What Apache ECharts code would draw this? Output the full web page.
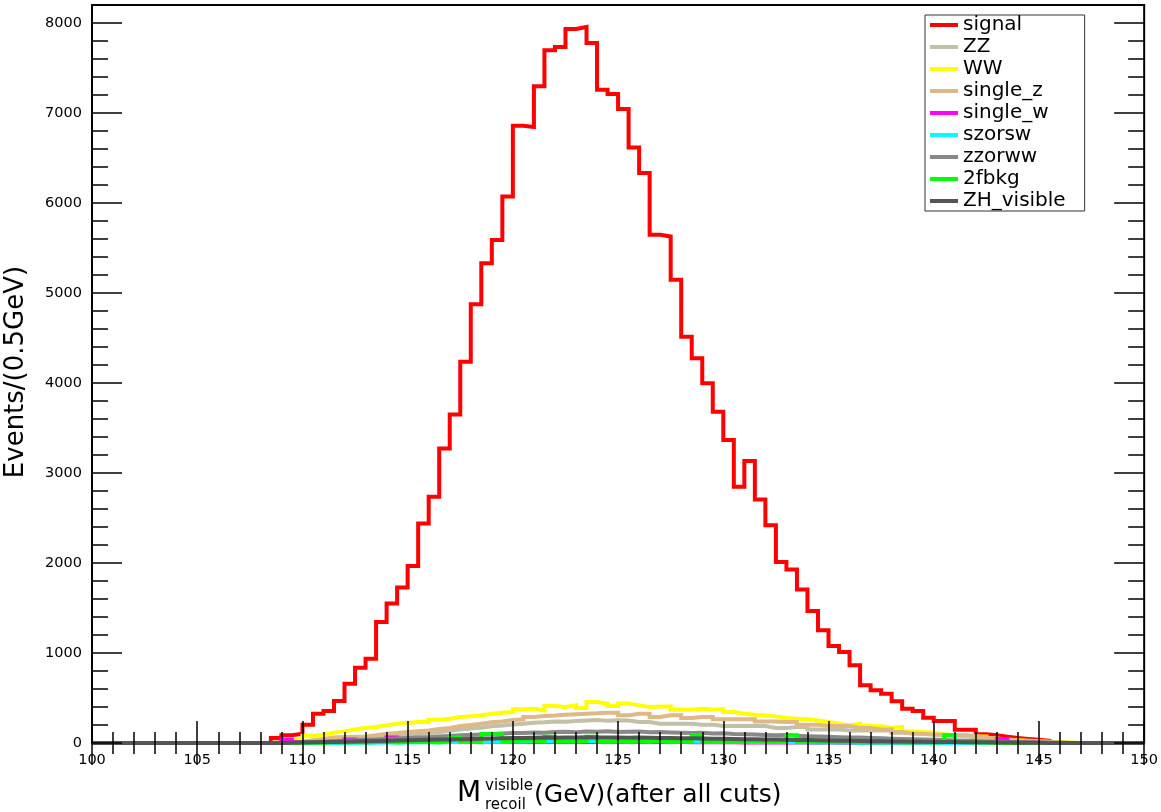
<!DOCTYPE html>
<html><head><meta charset="utf-8">
<script src="https://cdn.jsdelivr.net/npm/echarts@6/dist/echarts.min.js"></script>
<style>html,body{margin:0;padding:0;background:#fff}#c{width:1161px;height:812px}</style>
</head><body><div id="c"></div>
<script>
// Histogram binning: bins of 0.5 GeV; arrays below start at bin low edge 108.0 GeV
const firstEdge = 108.0;
const binWidth = 0.5;
const xMin = 100, xMax = 150;
const yMin = 0, yMax = 8200;

const signal = [0, 55, 85, 103, 203, 326, 355, 466, 659, 837,
  937, 1345, 1549, 1727, 1968, 2439, 2735, 3273, 3651, 4237,
  4875, 5331, 5590, 6072, 6859, 6844, 7296, 7697, 7734, 7934,
  7956, 7779, 7259, 7211, 7044, 6617, 6332, 5646, 5627, 5146,
  4515, 4275, 3996, 3681, 3366, 2846, 3132, 2706, 2420, 2012,
  1927, 1705, 1467, 1252, 1078, 1011, 863, 641, 585, 548,
  463, 381, 355, 281, 244, 244, 148, 148, 96, 85,
  70, 55, 45, 35, 25, 0, 0, 0];

const zz = [0, 0, 5, 10, 20, 25, 30, 38, 45, 55,
  60, 70, 80, 90, 100, 110, 120, 135, 150, 160,
  170, 185, 195, 205, 215, 225, 230, 240, 235, 245,
  250, 255, 248, 252, 251, 233, 233, 214, 214, 214,
  214, 204, 204, 188, 188, 188, 188, 188, 166, 166,
  177, 177, 151, 151, 151, 140, 140, 140, 140, 140,
  114, 114, 100, 100, 85, 85, 75, 65, 55, 45,
  35, 28, 20, 15, 10, 5, 0, 0];

const ww = [0, 10, 25, 45, 80, 92, 114, 129, 151, 166,
  177, 196, 214, 222, 233, 235, 259, 270, 288, 296,
  307, 326, 337, 344, 374, 381, 363, 411, 400, 418,
  388, 455, 437, 411, 440, 418, 400, 406, 406, 370,
  370, 381, 370, 374, 344, 326, 314, 307, 296, 277,
  270, 263, 251, 233, 214, 196, 214, 188, 185, 166,
  177, 129, 121, 114, 96, 85, 85, 73, 73, 50,
  40, 30, 25, 20, 15, 10, 5, 0];

const singleZ = [0, 0, 5, 15, 30, 45, 60, 66, 70, 72,
  85, 103, 110, 121, 130, 140, 155, 166, 188, 200,
  214, 230, 240, 255, 263, 288, 300, 305, 314, 320,
  326, 330, 337, 337, 307, 326, 326, 288, 307, 307,
  277, 288, 288, 263, 263, 263, 263, 240, 240, 233,
  233, 204, 204, 188, 188, 188, 166, 166, 151, 151,
  121, 103, 103, 92, 92, 85, 85, 75, 60, 45,
  35, 28, 20, 15, 10, 5, 0, 0];

const singleW = [0, 5, 35, 10, 5, 10, 15, 10, 40, 15,
  10, 20, 60, 15, 10, 15, 10, 15, 12, 10,
  15, 10, 12, 15, 10, 12, 15, 10, 12, 10,
  10, 12, 10, 15, 10, 12, 10, 10, 12, 10,
  8, 10, 8, 10, 8, 6, 8, 6, 5, 6,
  5, 5, 4, 5, 4, 4, 3, 3, 3, 3,
  2, 2, 2, 2, 1, 1, 1, 1, 2, 5,
  45, 10, 5, 2, 0, 0, 0, 0];

const szorsw = [0, 0, 0, 0, 0, 0, 0, 0, 2, 3,
  3, 5, 5, 6, 8, 8, 8, 10, 10, 12,
  12, 15, 15, 18, 18, 20, 20, 22, 20, 22,
  25, 22, 20, 22, 18, 20, 28, 20, 18, 20,
  18, 15, 15, 18, 15, 12, 12, 10, 10, 10,
  8, 8, 6, 6, 5, 5, 4, 4, 3, 3,
  2, 2, 2, 1, 1, 1, 0, 0, 0, 0,
  0, 0, 0, 0, 0, 0, 0, 0];

const zzorww = [0, 0, 3, 8, 12, 15, 20, 25, 30, 35,
  40, 45, 50, 55, 60, 65, 72, 78, 85, 90,
  95, 100, 105, 110, 112, 118, 115, 122, 125, 120,
  128, 125, 130, 122, 125, 128, 120, 122, 118, 115,
  112, 115, 105, 108, 100, 98, 95, 90, 85, 88,
  80, 75, 72, 70, 65, 62, 60, 55, 52, 48,
  45, 42, 38, 35, 32, 28, 25, 22, 18, 15,
  12, 10, 8, 5, 3, 2, 0, 0];

const fbkg2 = [0, 0, 0, 0, 5, 0, 10, 5, 10, 5,
  10, 15, 5, 10, 15, 10, 5, 20, 60, 15,
  10, 100, 95, 20, 30, 25, 15, 70, 20, 15,
  20, 70, 15, 20, 15, 20, 10, 25, 15, 20,
  15, 85, 15, 10, 15, 10, 20, 15, 10, 15,
  85, 15, 10, 10, 15, 10, 5, 10, 5, 10,
  5, 5, 10, 5, 10, 85, 10, 5, 5, 0,
  0, 0, 0, 0, 0, 0, 0, 0];

const zhVisible = [0, 0, 2, 5, 8, 10, 12, 15, 18, 20,
  22, 25, 28, 30, 33, 35, 38, 40, 43, 45,
  48, 50, 52, 55, 55, 58, 60, 58, 62, 60,
  63, 60, 62, 60, 58, 60, 58, 56, 55, 53,
  52, 50, 48, 47, 45, 43, 42, 40, 38, 36,
  34, 32, 30, 28, 26, 24, 22, 20, 19, 18,
  16, 15, 14, 12, 11, 10, 9, 8, 7, 6,
  5, 4, 3, 2, 1, 0, 0, 0];

const seriesNames = ['signal', 'ZZ', 'WW', 'single_z', 'single_w', 'szorsw', 'zzorww', '2fbkg', 'ZH_visible'];
const seriesColors = ['#ff0000', '#c2c0a6', '#ffff00', '#deb887', '#ff00ff', '#00ffff', '#888888', '#00ff00', '#555555'];
const seriesValues = [signal, zz, ww, singleZ, singleW, szorsw, zzorww, fbkg2, zhVisible];

const FONT = 'DejaVu Sans';

function histPoints(vals) {
  const nBins = Math.round((xMax - xMin) / binWidth);
  const pts = [];
  for (let i = 0; i < nBins; i++) {
    const edge = xMin + i * binWidth;
    const k = Math.round((edge - firstEdge) / binWidth);
    const v = (k >= 0 && k < vals.length) ? vals[k] : 0;
    pts.push([edge, v]);
  }
  pts.push([xMax, pts[pts.length - 1][1]]);
  return pts;
}

const series = seriesNames.map((name, i) => ({
  name: name,
  type: 'line',
  step: 'end',
  symbol: 'none',
  clip: false,
  color: seriesColors[i],
  lineStyle: { color: seriesColors[i], width: 4, join: 'miter', cap: 'butt' },
  xAxisIndex: 0,
  yAxisIndex: 0,
  data: histPoints(seriesValues[i])
}));

// label-only x axis
function xLabelAx() {
  return {
    type: 'value', position: 'bottom', min: xMin, max: xMax, interval: 5,
    axisLine: { show: false }, splitLine: { show: false },
    axisTick: { show: false }, minorTick: { show: false },
    axisLabel: { show: true, fontFamily: FONT, fontSize: 14.5, color: '#000', margin: 10,
      formatter: v => String(v) }
  };
}
// tick-only x axis
function xTickAx(pos) {
  return {
    type: 'value', position: pos, min: xMin, max: xMax, interval: 5, z: 5,
    axisLine: { show: false }, splitLine: { show: false },
    axisTick: { show: true, inside: true, length: 22, lineStyle: { color: '#000', width: 1.5 } },
    minorTick: { show: true, splitNumber: 5, length: 11, lineStyle: { color: '#000', width: 1.5 } },
    axisLabel: { show: false }
  };
}
function yAx(pos, interval, len, labels) {
  return {
    type: 'value', position: pos, min: yMin, max: yMax, interval: interval, z: 5,
    axisLine: { show: false },
    splitLine: { show: false },
    axisTick: { show: true, inside: true, length: len, lineStyle: { color: '#000', width: 1.5 } },
    axisLabel: { show: labels, fontFamily: FONT, fontSize: 14.5, color: '#000', margin: 10, showMaxLabel: false,
      formatter: v => String(v) }
  };
}

const chart = echarts.init(document.getElementById('c'), null, { renderer: 'canvas' });
chart.setOption({
  animation: false,
  backgroundColor: '#fff',
  grid: { left: 92, right: 11, top: 5, bottom: 69, show: true, borderColor: '#000', borderWidth: 2, backgroundColor: 'transparent' },
  xAxis: [xLabelAx(), xTickAx('bottom'), xTickAx('top')],
  yAxis: [yAx('left', 1000, 30, true), yAx('left', 200, 16, false), yAx('right', 1000, 30, false), yAx('right', 200, 16, false)],
  legend: {
    data: seriesNames,
    orient: 'vertical',
    left: 925, top: 15,
    icon: 'rect',
    itemWidth: 28, itemHeight: 4, itemGap: 2,
    padding: [0, 19, 0, 5],
    backgroundColor: '#fff',
    borderColor: '#333', borderWidth: 1,
    textStyle: { fontFamily: FONT, fontSize: 20, color: '#000' },
    selectedMode: false
  },
  graphic: [
    { type: 'text', x: 16, y: 372, rotation: Math.PI / 2,
      style: { text: 'Events/(0.5GeV)', fontFamily: FONT, fontSize: 26, fill: '#000', align: 'center', verticalAlign: 'middle', textAlign: 'center', textVerticalAlign: 'middle' } },
    { type: 'text', x: 457, y: 794,
      style: { text: 'M', fontFamily: FONT, fontSize: 28, fill: '#000', align: 'left', verticalAlign: 'middle', textAlign: 'left', textVerticalAlign: 'middle' } },
    { type: 'text', x: 485, y: 786,
      style: { text: 'visible', fontFamily: FONT, fontSize: 15, fill: '#000', align: 'left', verticalAlign: 'middle', textAlign: 'left', textVerticalAlign: 'middle' } },
    { type: 'text', x: 485, y: 805,
      style: { text: 'recoil', fontFamily: FONT, fontSize: 15, fill: '#000', align: 'left', verticalAlign: 'middle', textAlign: 'left', textVerticalAlign: 'middle' } },
    { type: 'text', x: 534, y: 795.5,
      style: { text: '(GeV)(after all cuts)', fontFamily: FONT, fontSize: 25, fill: '#000', align: 'left', verticalAlign: 'middle', textAlign: 'left', textVerticalAlign: 'middle' } }
  ],
  series: series
});
</script>
</body></html>
